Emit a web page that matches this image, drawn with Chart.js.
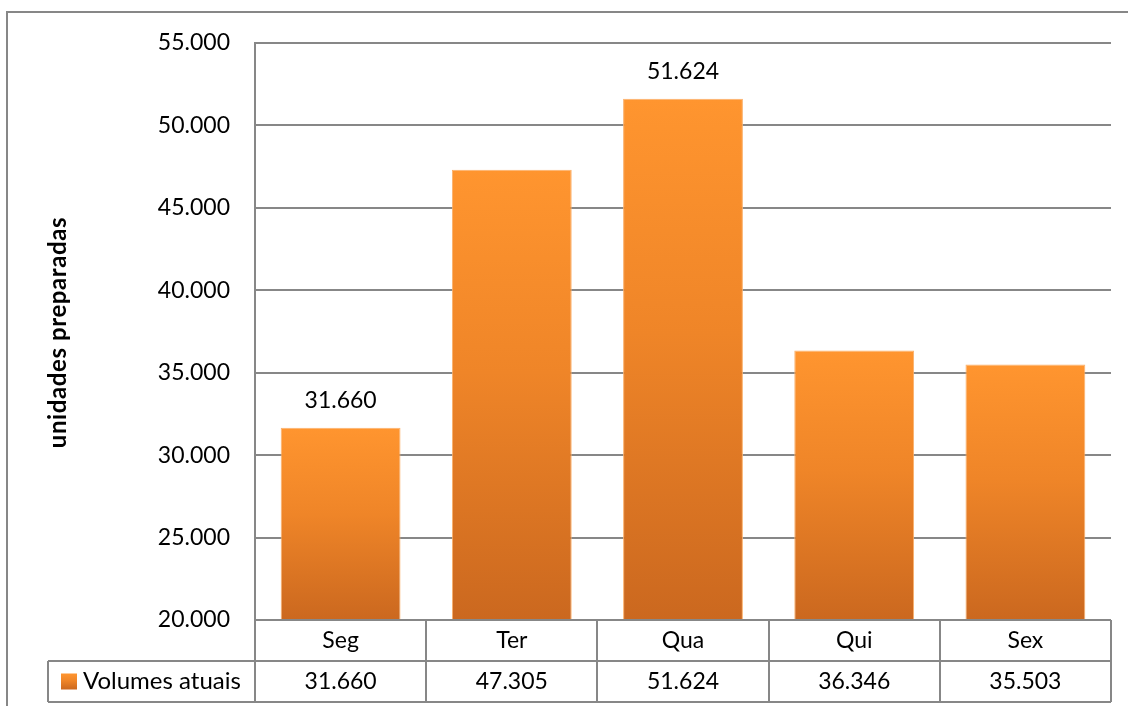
<!DOCTYPE html>
<html>
<head>
<meta charset="utf-8">
<script src="https://cdn.jsdelivr.net/npm/chart.js@4"></script>
<style>
  html, body { margin: 0; padding: 0; background: #ffffff; }
  #wrap { width: 1128px; height: 706px; position: relative; }
</style>
</head>
<body>
<div id="wrap"><canvas id="chart" width="1128" height="706"></canvas></div>
<script>
// Volumes preparados por dia da semana
const dias = ['Seg', 'Ter', 'Qua', 'Qui', 'Sex'];
const volumesAtuais = [31660, 47305, 51624, 36346, 35503];
const serieNome = 'Volumes atuais';
const rotuloVisivel = [true, false, true, false, false];
const eixoY = { min: 20000, max: 55000, passo: 5000 };
const tituloEixoY = 'unidades preparadas';

const FONTE = 'Lato, "Open Sans", sans-serif';
const CINZA = '#878787';

const fmt = v => v.toLocaleString('pt-BR', { maximumFractionDigits: 0 });

function gradienteBarra(ctx, topo, base) {
  const g = ctx.createLinearGradient(0, topo, 0, base);
  g.addColorStop(0, '#FF952F');
  g.addColorStop(0.45, '#EF8528');
  g.addColorStop(1, '#CB681F');
  return g;
}

// Moldura externa e título do eixo vertical
const moldura = {
  id: 'moldura',
  beforeDraw(chart) {
    const c = chart.ctx;
    const area = chart.chartArea;
    c.save();
    c.fillStyle = '#ffffff';
    c.fillRect(0, 0, chart.width, chart.height);
    c.strokeStyle = CINZA;
    c.lineWidth = 2;
    c.strokeRect(7, 12, chart.width + 20, chart.height + 20);

    c.translate(58, (area.top + area.bottom) / 2 + 1);
    c.rotate(-Math.PI / 2);
    c.font = 'bold 24px ' + FONTE;
    c.letterSpacing = '0.6px';
    c.fillStyle = '#000000';
    c.textAlign = 'center';
    c.textBaseline = 'middle';
    c.fillText(tituloEixoY, 0, 0);
    c.restore();
  }
};

// Rótulos de valor acima das barras
const rotulos = {
  id: 'rotulos',
  afterDatasetsDraw(chart) {
    const c = chart.ctx;
    const meta = chart.getDatasetMeta(0);
    c.save();
    c.font = '23px ' + FONTE;
    c.fillStyle = '#000000';
    c.textAlign = 'center';
    c.textBaseline = 'middle';
    meta.data.forEach((bar, i) => {
      if (!rotuloVisivel[i]) return;
      c.fillText(fmt(volumesAtuais[i]), bar.x, bar.y - 27);
    });
    c.restore();
  }
};

// Tabela de dados sob o eixo das categorias
const tabela = {
  id: 'tabela',
  afterDraw(chart) {
    const c = chart.ctx;
    const area = chart.chartArea;
    const x = chart.scales.x;
    const passo = (area.right - area.left) / dias.length;
    const y0 = area.bottom, y1 = y0 + 41, y2 = y1 + 41;
    const esq = 48;
    c.save();
    c.strokeStyle = CINZA;
    c.lineWidth = 2;
    c.beginPath();
    // linhas horizontais
    c.moveTo(area.left, y0); c.lineTo(area.right, y0);
    c.moveTo(esq, y1); c.lineTo(area.right, y1);
    c.moveTo(esq, y2); c.lineTo(area.right, y2);
    // linhas verticais
    c.moveTo(esq, y1); c.lineTo(esq, y2);
    for (let i = 0; i <= dias.length; i++) {
      const xx = Math.round(area.left + passo * i);
      c.moveTo(xx, y0); c.lineTo(xx, y2);
    }
    c.stroke();

    c.font = '23px ' + FONTE;
    c.fillStyle = '#000000';
    c.textAlign = 'center';
    c.textBaseline = 'middle';
    dias.forEach((d, i) => {
      const cx = x.getPixelForValue(i);
      c.fillText(d, cx, (y0 + y1) / 2);
      c.fillText(fmt(volumesAtuais[i]), cx, (y1 + y2) / 2);
    });

    // legenda da série
    const ky = (y1 + y2) / 2;
    c.fillStyle = gradienteBarra(c, ky - 8, ky + 8);
    c.fillRect(61, ky - 8, 16, 16);
    c.fillStyle = '#000000';
    c.textAlign = 'left';
    c.font = '24px ' + FONTE;
    c.fillText(serieNome, 83, ky);
    c.restore();
  }
};

new Chart(document.getElementById('chart'), {
  type: 'bar',
  data: {
    labels: dias,
    datasets: [{
      label: serieNome,
      data: volumesAtuais,
      backgroundColor(ctx) {
        const chart = ctx.chart;
        const area = chart.chartArea;
        if (!area) return '#F08628';
        const topo = chart.scales.y.getPixelForValue(ctx.raw);
        return gradienteBarra(chart.ctx, topo, area.bottom);
      },
      borderColor: '#FBB06A',
      borderWidth: 1,
      borderSkipped: 'bottom',
      categoryPercentage: 1.0,
      barPercentage: 0.7
    }]
  },
  options: {
    responsive: false,
    animation: false,
    devicePixelRatio: 1,
    layout: { padding: { left: 0, top: 43, right: 17, bottom: 86 } },
    plugins: {
      legend: { display: false },
      tooltip: { enabled: false },
      title: { display: false }
    },
    scales: {
      x: {
        display: false,
        grid: { display: false }
      },
      y: {
        min: eixoY.min,
        max: eixoY.max,
        afterFit(scale) { scale.width = 255; },
        border: { display: true, color: CINZA, width: 2 },
        grid: { color: CINZA, lineWidth: 2, drawTicks: false },
        ticks: {
          stepSize: eixoY.passo,
          padding: 25,
          color: '#000000',
          font: { family: FONTE, size: 23 },
          callback: v => fmt(v)
        }
      }
    }
  },
  plugins: [moldura, rotulos, tabela]
});
</script>
</body>
</html>
